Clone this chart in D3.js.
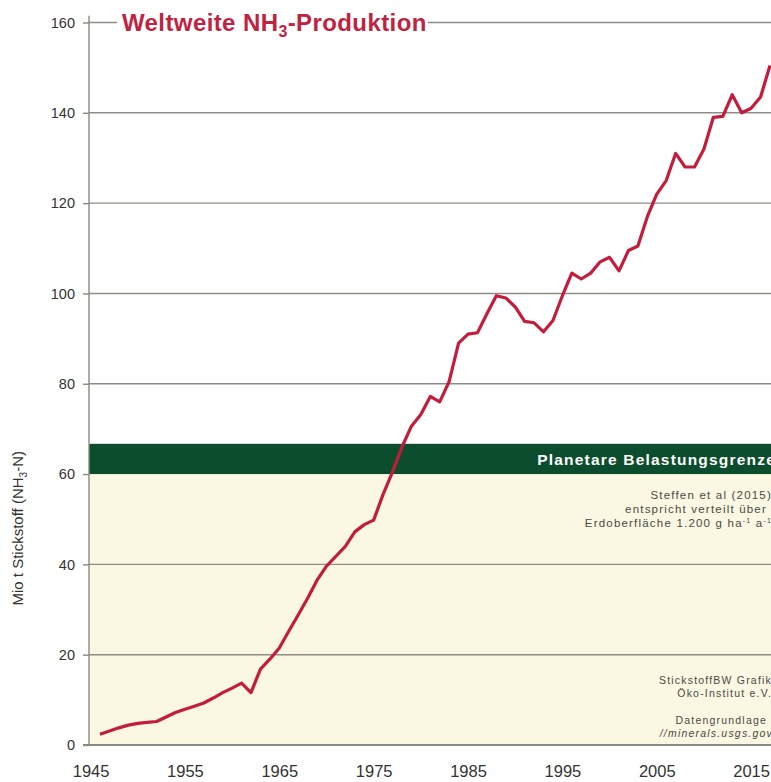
<!DOCTYPE html>
<html>
<head>
<meta charset="utf-8">
<script src="https://cdn.jsdelivr.net/npm/d3@7"></script>
<style>
  html, body { margin: 0; padding: 0; background: #ffffff; }
  svg { display: block; }
  text { font-family: "Liberation Sans", Arial, sans-serif; }
</style>
</head>
<body>
<svg id="chart" width="771" height="782"></svg>
<script>
// Weltweite Ammoniakproduktion, Mio t N pro Jahr
const years = d3.range(1946, 2018);
const production = [
  2.4, 3.1, 3.8, 4.4, 4.8, 5.0, 5.2, 6.2, 7.2, 7.9,
  8.6, 9.3, 10.4, 11.6, 12.6, 13.7, 11.6, 16.8, 19.0, 21.5,
  25.2, 28.8, 32.5, 36.5, 39.6, 41.8, 44.0, 47.2, 48.8, 49.8,
  55.5, 60.5, 66.0, 70.6, 73.2, 77.2, 76.0, 80.5, 89.0, 91.0,
  91.3, 95.5, 99.5, 99.0, 97.0, 93.8, 93.5, 91.5, 94.0, 99.5,
  104.5, 103.2, 104.5, 107.0, 108.0, 105.0, 109.5, 110.5, 117.0, 122.0,
  125.0, 131.0, 128.0, 128.0, 132.0, 139.0, 139.2, 144.0, 140.0, 141.0,
  143.5, 150.5
];
const yTicks = [0, 20, 40, 60, 80, 100, 120, 140, 160];
const xTicks = [1945, 1955, 1965, 1975, 1985, 1995, 2005, 2015];
// Planetare Belastungsgrenze (Band) über dem sicheren Bereich
const boundaryBand = [60, 66.7];

const svg = d3.select("#chart");
const W = 771;
const left = 89;

const x = d3.scaleLinear().domain([1946, 2017]).range([100, 770]);
const y = d3.scaleLinear().domain([0, 160]).range([745, 22.5]);

// safe zone below the boundary
svg.append("rect")
  .attr("x", left).attr("y", y(boundaryBand[0]))
  .attr("width", W - left).attr("height", y(0) - y(boundaryBand[0]))
  .attr("fill", "#faf7e3");

// gridlines
svg.append("g").selectAll("line")
  .data(yTicks.filter(d => d !== 0 && d !== 60))
  .join("line")
  .attr("x1", left).attr("x2", W)
  .attr("y1", d => y(d)).attr("y2", d => y(d))
  .attr("stroke", "#8d8d85").attr("stroke-width", 1.4);

// boundary band
svg.append("rect")
  .attr("x", left).attr("y", y(boundaryBand[1]))
  .attr("width", W - left).attr("height", y(boundaryBand[0]) - y(boundaryBand[1]))
  .attr("fill", "#0c4d2d");

svg.append("text")
  .attr("x", 776).attr("y", y(boundaryBand[0]) - 9)
  .attr("text-anchor", "end")
  .attr("fill", "#ffffff")
  .attr("font-weight", "bold")
  .attr("font-size", 15.5)
  .attr("letter-spacing", 1.2)
  .text("Planetare Belastungsgrenze");

// notes in the safe zone
const note = svg.append("g").attr("fill", "#4a4a44").attr("font-size", 11.5)
  .attr("letter-spacing", 1.2).attr("text-anchor", "end");
note.append("text").attr("x", 772).attr("y", 499).text("Steffen et al (2015)");
note.append("text").attr("x", 767).attr("y", 513).text("entspricht verteilt über");
const t3 = note.append("text").attr("x", 772).attr("y", 527);
t3.append("tspan").text("Erdoberfläche 1.200 g ha");
t3.append("tspan").attr("font-size", 7).attr("dy", -4).text("-1");
t3.append("tspan").attr("dy", 4).text(" a");
t3.append("tspan").attr("font-size", 7).attr("dy", -4).text("-1");

note.append("text").attr("x", 772).attr("y", 684).attr("font-size", 10.5).text("StickstoffBW Grafik");
note.append("text").attr("x", 772).attr("y", 697).attr("font-size", 10.5).text("Öko-Institut e.V.");
note.append("text").attr("x", 767).attr("y", 724).attr("font-size", 10.5).text("Datengrundlage");
note.append("text").attr("x", 773).attr("y", 737).attr("font-size", 10.5).attr("font-style", "italic").text("//minerals.usgs.gov");

// bottom axis line
svg.append("line")
  .attr("x1", left - 6).attr("x2", W)
  .attr("y1", y(0)).attr("y2", y(0))
  .attr("stroke", "#8a8a82").attr("stroke-width", 2);

// left axis
const yAxis = d3.axisLeft(y).tickValues(yTicks).tickSize(6).tickPadding(8);
const gy = svg.append("g").attr("transform", `translate(${left},0)`).call(yAxis);
gy.select(".domain").attr("stroke", "#8a8a82").attr("stroke-width", 1.4)
  .attr("d", `M0,${y(0)}V${y(161.5)}`);
gy.selectAll(".tick line").attr("stroke", "#8a8a82").attr("stroke-width", 1.4);
gy.selectAll(".tick text").attr("font-size", 14.5).attr("fill", "#333")
  .attr("font-family", "Liberation Sans, Arial, sans-serif");

// bottom labels
const xAxis = d3.axisBottom(x).tickValues(xTicks).tickSize(0).tickPadding(20).tickFormat(d3.format("d"));
const gx = svg.append("g").attr("transform", `translate(0,${y(0)})`).call(xAxis);
gx.select(".domain").remove();
gx.selectAll(".tick text").attr("font-size", 16.5).attr("fill", "#333")
  .attr("font-family", "Liberation Sans, Arial, sans-serif");

// y title
const yt = svg.append("text")
  .attr("transform", `translate(23,${y(48)}) rotate(-90)`)
  .attr("text-anchor", "middle")
  .attr("font-size", 15).attr("fill", "#333");
yt.append("tspan").text("Mio t Stickstoff (NH");
yt.append("tspan").attr("font-size", 10).attr("dy", 4).text("3");
yt.append("tspan").attr("dy", -4).text("-N)");

// production line
const line = d3.line().x((d, i) => x(years[i])).y(d => y(d)).curve(d3.curveLinear);
svg.append("path")
  .datum(production)
  .attr("d", line)
  .attr("fill", "none")
  .attr("stroke", "#c41c3b")
  .attr("stroke-width", 3.2)
  .attr("stroke-linejoin", "round");

// title over the top gridline
const title = svg.append("text")
  .attr("x", 122).attr("y", y(160) + 8.5)
  .attr("font-size", 24).attr("font-weight", "bold").attr("fill", "#c0233f")
  .attr("letter-spacing", 0.4);
title.append("tspan").text("Weltweite NH");
title.append("tspan").attr("font-size", 16).attr("dy", 6).text("3");
title.append("tspan").attr("dy", -6).text("-Produktion");
const bb = title.node().getBBox();
svg.insert("rect", "text")
  .attr("x", bb.x - 5).attr("y", y(160) - 3)
  .attr("width", bb.width + 6).attr("height", 6)
  .attr("fill", "#ffffff");
</script>
</body>
</html>
